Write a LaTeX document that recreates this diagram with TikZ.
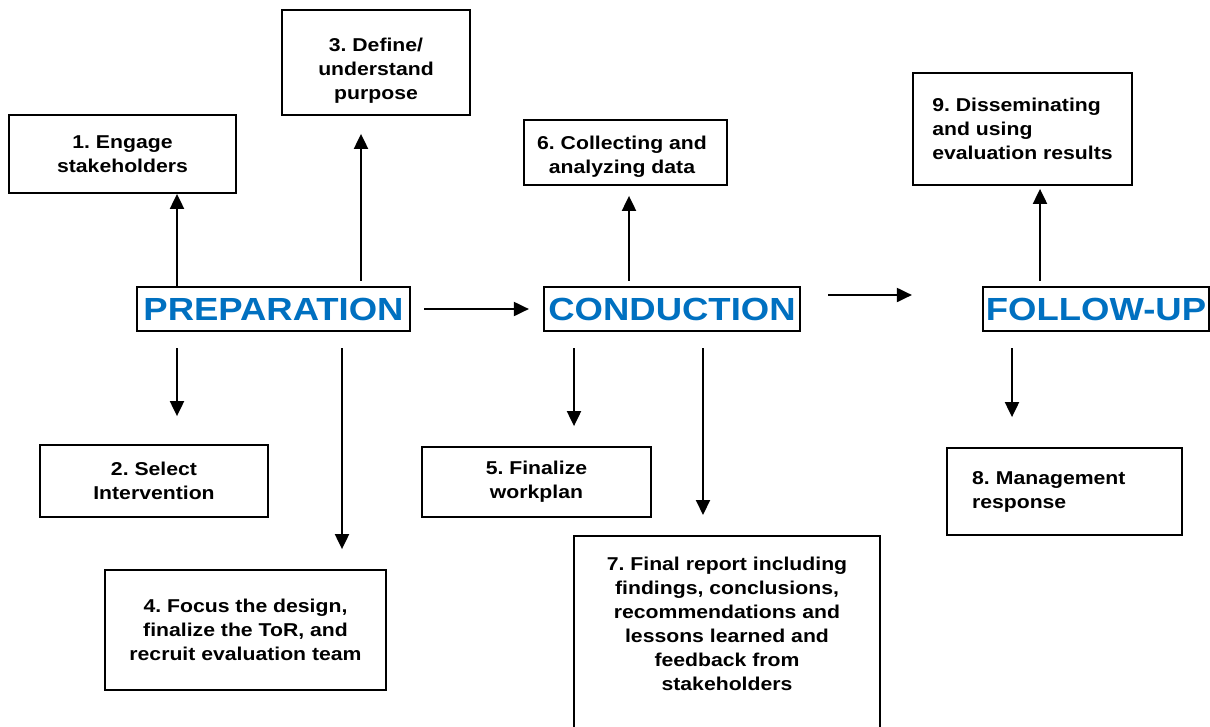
\documentclass[tikz,border=0pt]{standalone}
\usepackage{fontspec}
\setmainfont[FakeStretch=1.14]{Liberation Sans}
\usetikzlibrary{arrows.meta}
\definecolor{phaseblue}{RGB}{0,112,192}
\frenchspacing

\begin{document}
\begin{tikzpicture}[x=1pt,y=-1pt,
	txt/.style={align=center,inner sep=0pt,font=\fontsize{18.6}{24}\selectfont\bfseries},
	box/.style={txt,draw,line width=1.8pt},
	phase/.style={draw,line width=2.2pt,inner sep=0pt,minimum height=44pt,text=phaseblue,font=\fontsize{32}{32}\selectfont\bfseries},
	arr/.style={line width=2pt,-{Triangle[length=15pt,width=14pt]}}]
		\path[use as bounding box] (0,0) rectangle (1210,726);
		\clip (0,0) rectangle (1210,726);
		
		% the three phases
		\node[phase,minimum width=273pt] (prep) at (273.5,309) {PREPARATION};
		\node[phase,minimum width=256pt] (cond) at (672,309) {CONDUCTION};
		\node[phase,minimum width=226pt] (foll) at (1096,309) {FOLLOW-UP};
		
		% steps above
		\node[box,minimum width=227pt,minimum height=78pt] (b1) at (122.5,154) {1. Engage\\stakeholders};
		\node[box,minimum width=188pt,minimum height=105pt] (b3) at (376,62.5) {};
		\node[txt] (t3) at (376,71) {3. Define/\\understand\\purpose};
		\node[box,minimum width=203pt,minimum height=65pt] (b6) at (625.5,152.5) {};
		\node[txt] (t6) at (622,157) {6. Collecting and\\analyzing data};
		\node[box,align=left,minimum width=219pt,minimum height=112pt] (b9) at (1022.5,129) {9. Disseminating\\and using\\evaluation results};
		
		% steps below
		\node[box,minimum width=228pt,minimum height=72pt] (b2) at (154,481) {2. Select\\Intervention};
		\node[box,minimum width=229pt,minimum height=70pt] (b5) at (536.5,482) {5. Finalize\\workplan};
		\node[box,minimum width=281pt,minimum height=120pt] (b4) at (245.5,630) {4. Focus the design,\\finalize the ToR, and\\recruit evaluation team};
		\node[box,minimum width=306pt,minimum height=220pt,anchor=north] (b7) at (727,535) {};
		\node[txt] (t7) at (727,624) {7. Final report including\\findings, conclusions,\\recommendations and\\lessons learned and\\feedback from\\stakeholders};
		\node[box,align=left,text width=185pt,inner xsep=25pt,minimum height=87pt] (b8) at (1064.5,491.5) {8. Management\\response};
		
		\coordinate (xa) at (177,0);
		\coordinate (xb) at (361,0);
		\coordinate (xc) at (342,0);
		\coordinate (xd) at (629,0);
		\coordinate (xe) at (574,0);
		\coordinate (xf) at (703,0);
		\coordinate (xg) at (1040,0);
		\coordinate (xh) at (1012,0);
		\coordinate (yh) at (0,295);
		
		\draw[arr] (xa |- prep.north) -- (xa |- b1.south);
		\draw[arr,shorten <=5pt,shorten >=18pt] (xb |- prep.north) -- (xb |- b3.south);
		\draw[arr,shorten <=5pt,shorten >=10pt] (xd |- cond.north) -- (xd |- b6.south);
		\draw[arr,shorten <=5pt,shorten >=3pt] (xg |- foll.north) -- (xg |- b9.south);
		
		\draw[arr,shorten <=13pt,shorten >=14pt] (prep) -- (cond);
		\draw[arr,shorten <=27pt,shorten >=70pt] (yh -| cond.east) -- (yh -| foll.west);
		
		\draw[arr,shorten <=16pt,shorten >=28pt] (xa |- prep.south) -- (xa |- b2.north);
		\draw[arr,shorten <=16pt,shorten >=20pt] (xc |- prep.south) -- (xc |- b4.north);
		\draw[arr,shorten <=16pt,shorten >=20pt] (xe |- cond.south) -- (xe |- b5.north);
		\draw[arr,shorten <=16pt,shorten >=20pt] (xf |- cond.south) -- (xf |- b7.north);
		\draw[arr,shorten <=16pt,shorten >=30pt] (xh |- foll.south) -- (xh |- b8.north);
\end{tikzpicture}
\end{document}
